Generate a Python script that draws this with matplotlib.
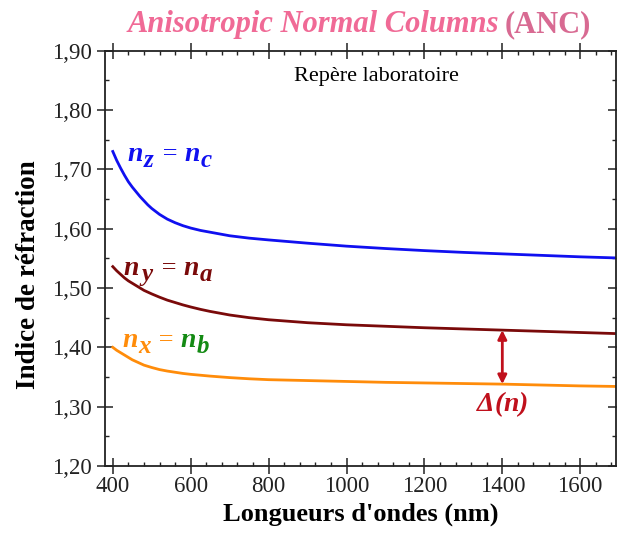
import matplotlib
matplotlib.use("Agg")
import matplotlib.pyplot as plt
from matplotlib.ticker import MultipleLocator, FuncFormatter
from matplotlib.transforms import blended_transform_factory, IdentityTransform, offset_copy

wavelength = [400, 410, 420, 430, 440, 450, 460, 470, 480, 490, 500, 520, 540, 560, 580,
              600, 625, 650, 700, 750, 800, 900, 1000, 1100, 1200, 1300, 1400, 1500,
              1600, 1700]
n_z = [1.730, 1.715, 1.702, 1.690, 1.679, 1.670, 1.662, 1.654, 1.647, 1.640, 1.634,
       1.624, 1.616, 1.610, 1.605, 1.601, 1.597, 1.594, 1.588, 1.584, 1.581, 1.5755,
       1.5705, 1.5665, 1.5630, 1.5600, 1.5575, 1.5550, 1.5525, 1.5505]
n_y = [1.536, 1.529, 1.523, 1.517, 1.512, 1.508, 1.504, 1.500, 1.496, 1.493, 1.490,
       1.4845, 1.4795, 1.4755, 1.4715, 1.468, 1.464, 1.4605, 1.4545, 1.450, 1.4465,
       1.4415, 1.438, 1.4355, 1.433, 1.431, 1.429, 1.427, 1.425, 1.423]
n_x = [1.400, 1.395, 1.391, 1.387, 1.383, 1.379, 1.376, 1.373, 1.370, 1.368, 1.366,
       1.3625, 1.360, 1.358, 1.356, 1.3545, 1.353, 1.3515, 1.349, 1.347, 1.3455, 1.344,
       1.3425, 1.341, 1.340, 1.339, 1.338, 1.3365, 1.335, 1.334]
delta_x = 1400
delta_top = 1.429
delta_bottom = 1.338

plt.rcParams['font.family'] = ['Liberation Serif', 'DejaVu Serif']
plt.rcParams['mathtext.fontset'] = 'custom'
plt.rcParams['mathtext.rm'] = 'Liberation Serif'
plt.rcParams['mathtext.it'] = 'Liberation Serif:italic'
plt.rcParams['mathtext.bf'] = 'Liberation Serif:bold'
plt.rcParams['mathtext.bfit'] = 'Liberation Serif:italic:bold'

BLUE = '#1010f0'
DRED = '#7a0a0a'
ORANGE = '#ff8c0a'
GREEN = '#138a13'
RED = '#c0101c'

fig = plt.figure(figsize=(6.17, 5.39), dpi=100)
ax = fig.add_axes([0.1702, 0.1354, 0.8289, 0.7707])

ax.plot(wavelength, n_z, color=BLUE, lw=2)
ax.plot(wavelength, n_y, color=DRED, lw=2)
ax.plot(wavelength, n_x, color=ORANGE, lw=2)

ax.set_xlim(380, 1693)
ax.set_ylim(1.2, 1.9)
ax.xaxis.set_major_locator(MultipleLocator(200))
ax.xaxis.set_minor_locator(MultipleLocator(40))
ax.yaxis.set_major_locator(MultipleLocator(0.1))
ax.yaxis.set_minor_locator(MultipleLocator(0.05))
ax.yaxis.set_major_formatter(FuncFormatter(lambda v, p: f"{v:.2f}".replace('.', ',')))
ax.tick_params(which='major', direction='inout', length=11, width=1.1,
               top=True, right=True, labelsize=16.5, pad=1.5, colors='#222222',
               labelcolor='#222222')
ax.tick_params(axis='y', which='major', pad=4)
ax.tick_params(which='minor', direction='in', length=2.8, width=1,
               top=True, right=True, colors='#222222')
for s in ax.spines.values():
    s.set_linewidth(1.3)
    s.set_color('#222222')

ax.set_xlabel("Longueurs d'ondes (nm)", fontsize=19, fontweight='bold', labelpad=4)
ax.set_ylabel("Indice de réfraction", fontsize=19.5, fontweight='bold')
ax.yaxis.set_label_coords(-0.125, 0.46)

ax.text(1076, 1.856, "Repère laboratoire", ha='center', va='center', fontsize=16)

# double arrow and delta label
ax.annotate('', xy=(delta_x, delta_top), xytext=(delta_x, delta_bottom),
            arrowprops=dict(arrowstyle='<|-|>', color=RED, lw=2, mutation_scale=13,
                            shrinkA=0, shrinkB=0))
ax.text(delta_x, delta_bottom - 0.033, r"$\mathbfit{\Delta(n)}$", color=RED,
        fontsize=20, ha='center', va='center')

fig.canvas.draw()
renderer = fig.canvas.get_renderer()


def chain(pieces, x, y):
    prev = None
    for txt, col, size, dy in pieces:
        if prev is None:
            base = ax.transData
            px = x
        else:
            ex = prev.get_window_extent(renderer)
            base = blended_transform_factory(IdentityTransform(), ax.transData)
            px = ex.x1
        tr = offset_copy(base, fig=fig, x=0, y=dy, units='dots')
        t = ax.text(px, y, txt, color=col, fontsize=size, va='baseline', ha='left',
                    transform=tr)
        fig.canvas.draw()
        prev = t


def label(main1, sub1, main2, sub2, c1, c2, x, y):
    chain([(r"$\mathbfit{%s}$" % main1, c1, 20, 0),
           (r"$\mathbfit{%s}$" % sub1, c1, 18, -6),
           (" = ", c1, 19, 0),
           (r"$\mathbfit{%s}$" % main2, c2, 20, 0),
           (r"$\mathbfit{%s}$" % sub2, c2, 18, -6)], x, y)


label('n', 'z', 'n', 'c', BLUE, BLUE, 437, 1.714)
label('n', 'y', 'n', 'a', DRED, DRED, 426, 1.522)
label('n', 'x', 'n', 'b', ORANGE, GREEN, 423, 1.401)

# title
t1 = fig.text(128 / 617, 1 - 32 / 539, "Anisotropic Normal Columns", color='#f06a96',
              fontsize=22, fontweight='bold', fontstyle='italic', va='baseline', ha='left')
fig.canvas.draw()
ex = t1.get_window_extent(renderer)
fig.text(ex.x1 / fig.bbox.width + 0.008, 1 - 32 / 539, "(ANC)", color='#d86a92',
         fontsize=22, fontweight='bold', va='baseline', ha='left')

fig.savefig('out.png', dpi=100)
